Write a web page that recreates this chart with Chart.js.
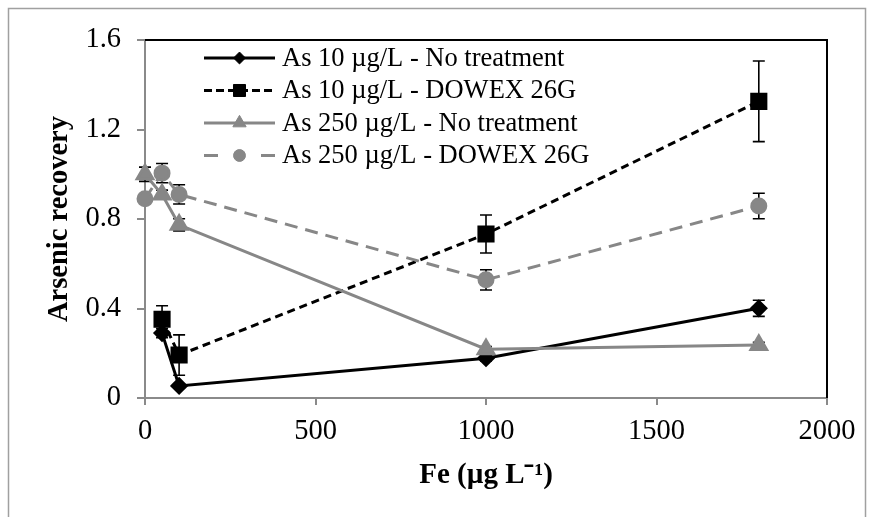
<!DOCTYPE html>
<html>
<head>
<meta charset="utf-8">
<script src="https://cdn.jsdelivr.net/npm/chart.js@4.4.0/dist/chart.umd.min.js"></script>
<style>
  html, body { margin: 0; padding: 0; background: #fff; }
  #wrap { width: 873px; height: 517px; position: relative; }
</style>
</head>
<body>
<div id="wrap"><canvas id="recoveryChart" width="873" height="517"></canvas></div>
<script>
// Fe (µg/L) and arsenic recovery, one set per series
const feNoTreat10 = [50, 100, 1000, 1800];
const recNoTreat10 = [0.29, 0.054, 0.178, 0.401];
const errNoTreat10 = [0.02, 0.01, 0.012, 0.036];

const feDowex10 = [50, 100, 1000, 1800];
const recDowex10 = [0.352, 0.192, 0.733, 1.326];
const errDowex10 = [0.06, 0.09, 0.085, 0.18];

const feNoTreat250 = [0, 50, 100, 1000, 1800];
const recNoTreat250 = [1.0, 0.909, 0.774, 0.218, 0.237];
const errNoTreat250 = [0.032, 0.02, 0.027, 0.012, 0.012];

const feDowex250 = [0, 50, 100, 1000, 1800];
const recDowex250 = [0.89, 1.005, 0.91, 0.528, 0.858];
const errDowex250 = [0.012, 0.043, 0.043, 0.045, 0.057];

const seriesNames = [
    'As 10 µg/L - No treatment',
    'As 10 µg/L - DOWEX 26G',
    'As 250 µg/L - No treatment',
    'As 250 µg/L - DOWEX 26G'
];

const xTickValues = [0, 500, 1000, 1500, 2000];
const xTickLabels = ['0', '500', '1000', '1500', '2000'];
const yTickValues = [0, 0.4, 0.8, 1.2, 1.6];
const yTickLabels = ['0', '0.4', '0.8', '1.2', '1.6'];

const serif = "'Liberation Serif', 'Times New Roman', serif";
const gray = '#878787';
const axisGray = '#8a8a8a';

function toPoints(xs, ys) {
    return xs.map((x, i) => ({ x: x, y: ys[i] }));
}

// outer frame around the whole figure
const framePlugin = {
    id: 'frame',
    beforeDraw(chart) {
        const ctx = chart.ctx;
        ctx.save();
        ctx.fillStyle = '#fff';
        ctx.fillRect(0, 0, chart.width, chart.height);
        ctx.strokeStyle = '#a0a0a0';
        ctx.lineWidth = 1.5;
        ctx.strokeRect(8.5, 8.5, 857, 560);
        ctx.restore();
    }
};

// black border on top and right of the plot area, then error bars under the markers
const errorBarPlugin = {
    id: 'errorBars',
    beforeDatasetsDraw(chart) {
        const ctx = chart.ctx;
        const area = chart.chartArea;
        const xs = chart.scales.x;
        const ys = chart.scales.y;

        ctx.save();
        ctx.strokeStyle = '#000';
        ctx.lineWidth = 2;
        ctx.beginPath();
        ctx.moveTo(area.left, area.top);
        ctx.lineTo(area.right, area.top);
        ctx.lineTo(area.right, area.bottom);
        ctx.stroke();

        ctx.lineWidth = 1.6;
        chart.data.datasets.forEach(ds => {
            ds.data.forEach((p, j) => {
                const e = ds.errors[j];
                const px = xs.getPixelForValue(p.x);
                const top = ys.getPixelForValue(p.y + e);
                const bot = ys.getPixelForValue(p.y - e);
                ctx.beginPath();
                ctx.moveTo(px, top);
                ctx.lineTo(px, bot);
                ctx.moveTo(px - 6, top);
                ctx.lineTo(px + 6, top);
                ctx.moveTo(px - 6, bot);
                ctx.lineTo(px + 6, bot);
                ctx.stroke();
            });
        });
        ctx.restore();
    }
};

// legend inside the plot, line sample with marker like the original
const insideLegendPlugin = {
    id: 'insideLegend',
    afterDatasetsDraw(chart) {
        const ctx = chart.ctx;
        const rowY = [58, 90.5, 123, 155.5];
        chart.data.datasets.forEach((ds, i) => {
            const y = rowY[i];
            ctx.save();
            ctx.strokeStyle = ds.borderColor;
            ctx.lineWidth = 3;
            ctx.setLineDash(ds.legendDash || []);
            ctx.beginPath();
            ctx.moveTo(204, y);
            ctx.lineTo(275, y);
            ctx.stroke();
            ctx.setLineDash([]);

            ctx.fillStyle = ds.backgroundColor;
            ctx.strokeStyle = ds.borderColor;
            ctx.lineWidth = 1;
            Chart.helpers.drawPoint(ctx, {
                pointStyle: ds.pointStyle,
                radius: ds.pointRadius * 0.85,
                borderWidth: 1,
                rotation: 0
            }, 239.5, y);

            ctx.fillStyle = '#000';
            ctx.font = '26.5px ' + serif;
            ctx.textBaseline = 'middle';
            ctx.textAlign = 'left';
            ctx.fillText(ds.label, 282, y + 1);
            ctx.restore();
        });
    }
};

const ctx = document.getElementById('recoveryChart').getContext('2d');

new Chart(ctx, {
    type: 'line',
    data: {
        datasets: [
            {
                label: seriesNames[0],
                data: toPoints(feNoTreat10, recNoTreat10),
                errors: errNoTreat10,
                borderColor: '#000',
                backgroundColor: '#000',
                borderWidth: 3,
                pointStyle: 'rectRot',
                pointRadius: 7,
                order: 3
            },
            {
                label: seriesNames[1],
                data: toPoints(feDowex10, recDowex10),
                errors: errDowex10,
                borderColor: '#000',
                backgroundColor: '#000',
                borderWidth: 3,
                borderDash: [8, 5],
                legendDash: [8, 4],
                pointStyle: 'rect',
                pointRadius: 10,
                order: 2
            },
            {
                label: seriesNames[2],
                data: toPoints(feNoTreat250, recNoTreat250),
                errors: errNoTreat250,
                borderColor: gray,
                backgroundColor: gray,
                borderWidth: 3,
                pointStyle: 'triangle',
                pointRadius: 9,
                order: 1
            },
            {
                label: seriesNames[3],
                data: toPoints(feDowex250, recDowex250),
                errors: errDowex250,
                borderColor: gray,
                backgroundColor: gray,
                borderWidth: 3,
                borderDash: [13, 8],
                legendDash: [14, 43],
                pointStyle: 'circle',
                pointRadius: 7,
                order: 0
            }
        ]
    },
    options: {
        responsive: false,
        animation: false,
        layout: {
            padding: { top: 40, right: 46, left: 0, bottom: 0 }
        },
        elements: {
            line: { tension: 0 },
            point: { borderWidth: 1, hoverRadius: 7 }
        },
        datasets: {
            line: { clip: false }
        },
        plugins: {
            legend: { display: false },
            tooltip: { enabled: false }
        },
        scales: {
            x: {
                type: 'linear',
                min: 0,
                max: 2000,
                afterBuildTicks: s => { s.ticks = xTickValues.map(v => ({ value: v })); },
                afterFit: s => { s.height = 119; },
                ticks: {
                    autoSkip: false,
                    maxRotation: 0,
                    padding: 9,
                    color: '#000',
                    font: { family: serif, size: 28.5 },
                    callback: v => xTickLabels[xTickValues.indexOf(v)]
                },
                grid: {
                    drawOnChartArea: false,
                    drawTicks: true,
                    tickLength: 7,
                    color: axisGray,
                    lineWidth: 2
                },
                border: { color: axisGray, width: 2 },
                title: {
                    display: true,
                    text: 'Fe (µg L⁻¹)',
                    color: '#000',
                    font: { family: serif, size: 29, weight: 'bold' },
                    padding: { top: 0, bottom: 24 }
                }
            },
            y: {
                min: 0,
                max: 1.6,
                afterBuildTicks: s => { s.ticks = yTickValues.map(v => ({ value: v })); },
                afterFit: s => { s.width = 145; },
                ticks: {
                    padding: 16,
                    color: '#000',
                    font: { family: serif, size: 28.5 },
                    callback: v => yTickLabels[yTickValues.indexOf(v)]
                },
                grid: {
                    drawOnChartArea: false,
                    drawTicks: true,
                    tickLength: 8,
                    color: axisGray,
                    lineWidth: 2
                },
                border: { color: axisGray, width: 2 },
                title: {
                    display: true,
                    text: 'Arsenic recovery',
                    color: '#000',
                    font: { family: serif, size: 28.5, weight: 'bold' },
                    padding: { top: 43, bottom: 0 }
                }
            }
        }
    },
    plugins: [framePlugin, errorBarPlugin, insideLegendPlugin]
});
</script>
</body>
</html>
